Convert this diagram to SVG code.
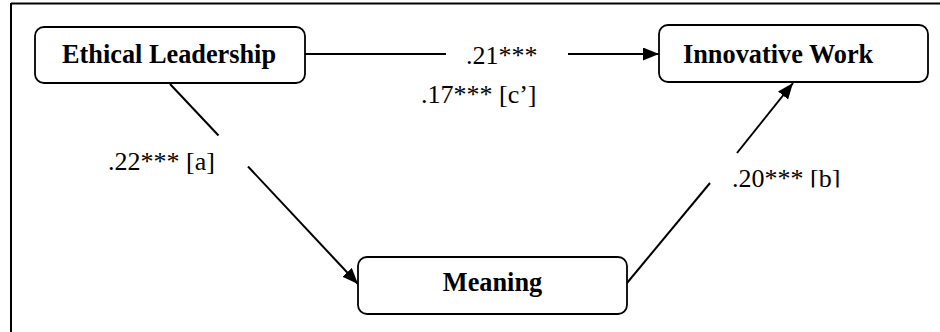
<svg xmlns="http://www.w3.org/2000/svg" width="940" height="332" viewBox="0 0 940 332">
<style>
.box{fill:#fff;stroke:#000;stroke-width:1.8}
.nt{font-family:"Liberation Serif","Times New Roman",serif;font-weight:bold;font-size:26.3px;fill:#000}
.lb{font-family:"Liberation Serif","Times New Roman",serif;font-size:26px;fill:#000}
.ln{stroke:#000;stroke-width:2;fill:none}
</style>
<defs>
<marker id="ah" markerUnits="userSpaceOnUse" markerWidth="17" markerHeight="13" refX="16" refY="6.5" orient="auto">
<path d="M0,0 L16,6.5 L0,13 z" fill="#000"/>
</marker>
<clipPath id="cb"><rect x="700" y="150" width="200" height="37.5"/></clipPath>
</defs>
<rect width="940" height="332" fill="#fff"/>
<g id="frame">
<line x1="11" y1="3.5" x2="940" y2="3.5" class="ln"/>
<line x1="11" y1="3" x2="11" y2="332" class="ln"/>
</g>
<g id="connectors">
<line x1="305" y1="54" x2="446" y2="54" class="ln"/>
<line x1="568" y1="54" x2="659" y2="54" class="ln" marker-end="url(#ah)"/>
<line x1="170" y1="84" x2="218.5" y2="135.5" class="ln"/>
<line x1="248" y1="166.5" x2="358" y2="284" class="ln" marker-end="url(#ah)"/>
<line x1="627" y1="283" x2="710" y2="183" class="ln"/>
<line x1="737" y1="153" x2="793" y2="83" class="ln" marker-end="url(#ah)"/>
</g>
<g id="labels">
<text x="466" y="64" class="lb">.21***</text>
<text x="421" y="103" class="lb">.17*** [c’]</text>
<text x="108" y="170" class="lb">.22*** [a]</text>
<text x="732" y="187" class="lb" clip-path="url(#cb)">.20*** [b]</text>
</g>
<g id="ethical">
<rect x="35" y="27" width="270" height="56" rx="9" class="box"/>
<text x="62" y="63" class="nt">Ethical Leadership</text>
</g>
<g id="innovative">
<rect x="659" y="25" width="269" height="57" rx="9" class="box"/>
<text x="683" y="63" class="nt">Innovative Work</text>
</g>
<g id="meaning">
<rect x="358" y="257" width="269" height="57" rx="9" class="box"/>
<text x="492.5" y="291" class="nt" text-anchor="middle">Meaning</text>
</g>
</svg>
